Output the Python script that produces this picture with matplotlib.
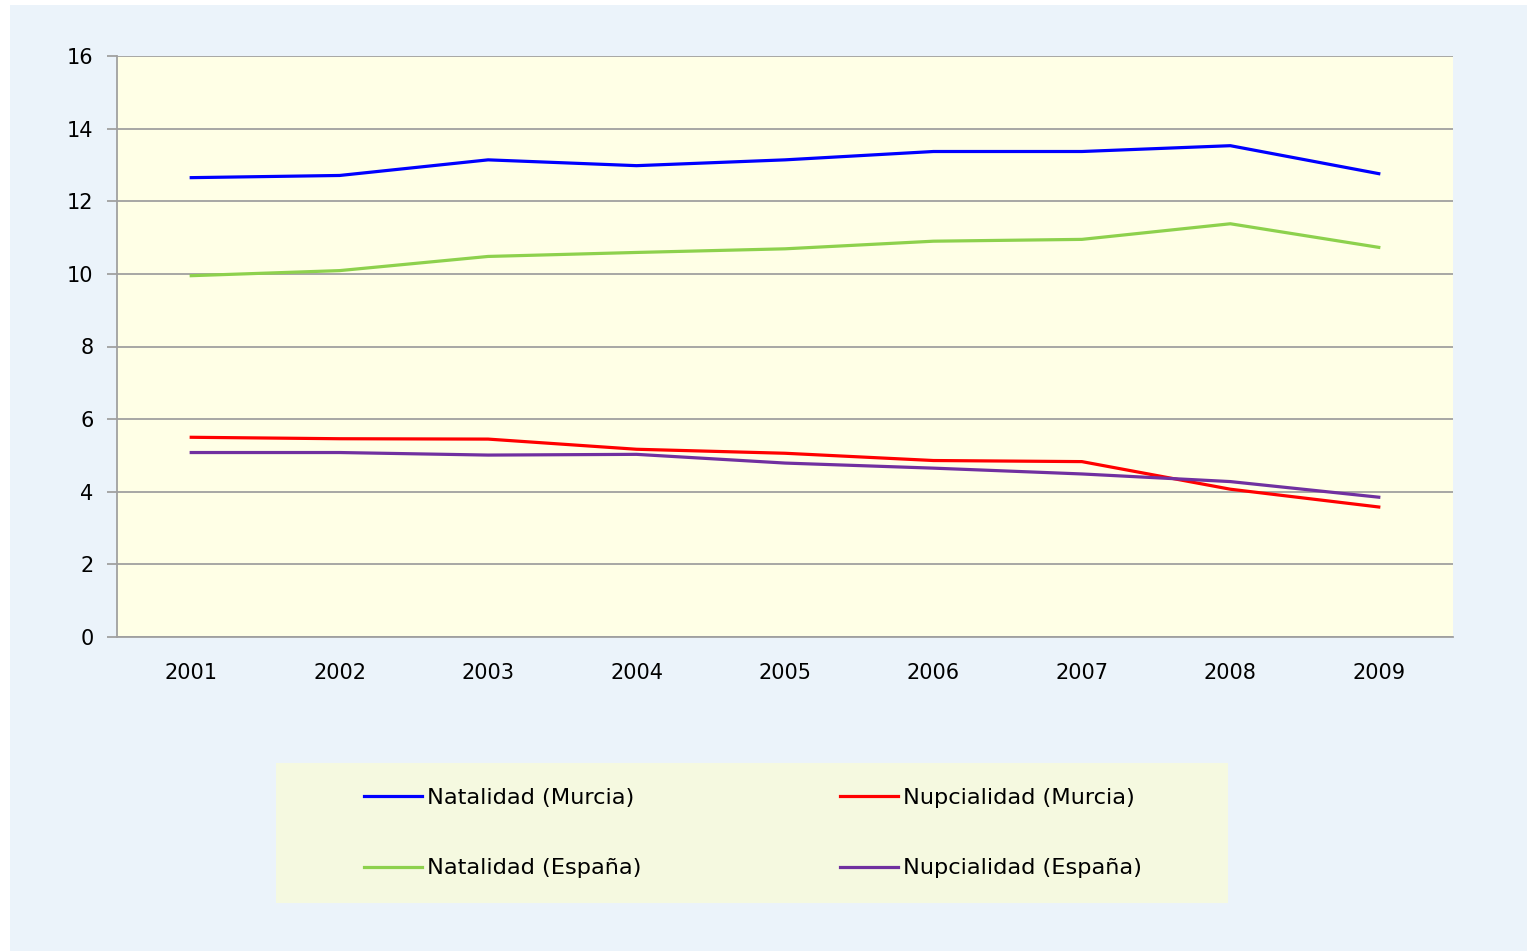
"""Tasas de natalidad y nupcialidad, Murcia vs España, 2001-2009."""

import matplotlib
matplotlib.use("Agg")
import matplotlib.pyplot as plt
from matplotlib.patches import Rectangle

years = ["2001", "2002", "2003", "2004", "2005", "2006", "2007", "2008", "2009"]
natalidad_murcia = [12.65, 12.71, 13.14, 12.98, 13.14, 13.37, 13.37, 13.53, 12.76]
natalidad_espana = [9.95, 10.09, 10.48, 10.59, 10.69, 10.90, 10.95, 11.38, 10.73]
nupcialidad_murcia = [5.50, 5.46, 5.45, 5.17, 5.06, 4.86, 4.83, 4.07, 3.58]
nupcialidad_espana = [5.08, 5.08, 5.01, 5.03, 4.79, 4.65, 4.49, 4.28, 3.85]
yticks = [0, 2, 4, 6, 8, 10, 12, 14, 16]

W, H = 1530, 951
fig = plt.figure(figsize=(W / 100, H / 100), dpi=100)
fig.patch.set_facecolor("white")
# light blue page background
fig.patches.append(Rectangle((10 / W, 0), 1517 / W, 946 / H, transform=fig.transFigure,
                             facecolor="#EBF3FA", edgecolor="none", zorder=-10))
# legend box background
fig.patches.append(Rectangle((276 / W, (H - 903) / H), 952 / W, 140 / H, transform=fig.transFigure,
                             facecolor="#F5F9E0", edgecolor="none", zorder=-5))

ax = fig.add_axes([117 / W, (H - 637) / H, 1336 / W, 581 / H])
ax.set_facecolor("#FFFFE6")

x = range(len(years))
ax.plot(x, natalidad_murcia, color="#0000FF", lw=2.3, label="Natalidad (Murcia)")
ax.plot(x, natalidad_espana, color="#8DD14D", lw=2.3, label="Natalidad (España)")
ax.plot(x, nupcialidad_murcia, color="#FF0000", lw=2.3, label="Nupcialidad (Murcia)")
ax.plot(x, nupcialidad_espana, color="#7030A0", lw=2.3, label="Nupcialidad (España)")

ax.set_xlim(-0.5, len(years) - 0.5)
ax.set_ylim(0, 16)
ax.set_yticks(yticks)
ax.set_xticks(list(x))
ax.set_xticklabels(years)
ax.yaxis.grid(True, color="#A0A0A0", lw=1.3)
ax.set_axisbelow(True)
for side in ["top", "right"]:
    ax.spines[side].set_visible(False)
for side in ["left", "bottom"]:
    ax.spines[side].set_color("#A0A0A0")
    ax.spines[side].set_linewidth(1.3)
ax.tick_params(axis="y", length=7, width=1.3, color="#A0A0A0", labelsize=15, pad=10)
ax.tick_params(axis="x", length=0, labelsize=15, pad=19)

fig.legend(loc="upper left", bbox_to_anchor=(344 / W, (H - 768) / H), ncol=2,
           frameon=False, fontsize=16.2, handlelength=2.55, handletextpad=0.22,
           columnspacing=8.85, labelspacing=2.23)

fig.savefig("out.png", dpi=100)
